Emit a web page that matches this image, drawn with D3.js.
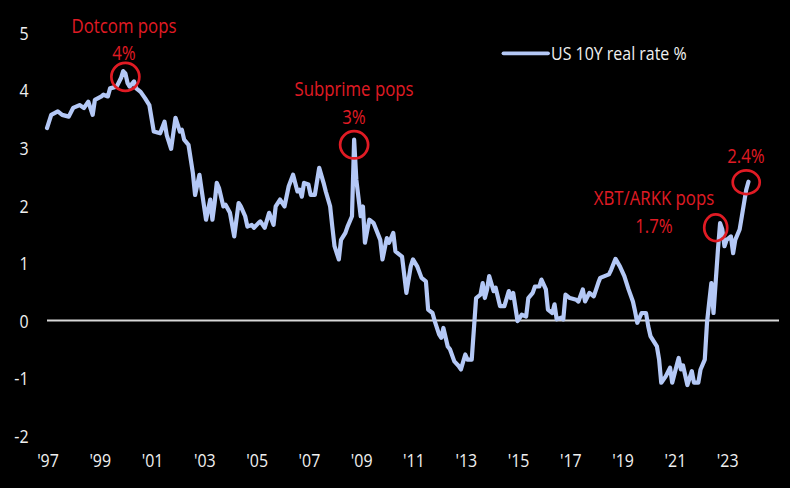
<!DOCTYPE html>
<html><head><meta charset="utf-8">
<script src="https://cdn.jsdelivr.net/npm/d3@7"></script>
<style>html,body{margin:0;padding:0;background:#000;} svg{display:block;}</style>
</head><body>
<svg id="chart" width="790" height="488"></svg>
<script>
// ---- data ----
const months = ["1997-01","1997-03","1997-06","1997-08","1997-11","1998-01","1998-04","1998-06","1998-08","1998-10","1998-11",
"1999-02","1999-03","1999-05","1999-06","1999-09","1999-11","1999-12","2000-01","2000-02","2000-03","2000-05","2000-06","2000-08","2000-10","2000-12",
"2001-01","2001-02","2001-05","2001-07","2001-08","2001-10","2001-12","2002-02","2002-03","2002-04","2002-06","2002-08","2002-09","2002-11","2002-12",
"2003-02","2003-04","2003-05","2003-06","2003-07","2003-08","2003-10","2003-11","2004-01","2004-03","2004-05","2004-06","2004-08","2004-09","2004-11","2004-12",
"2005-02","2005-03","2005-05","2005-07","2005-09","2005-10","2005-12","2006-02","2006-04","2006-06","2006-08","2006-09","2006-10","2006-11",
"2007-01","2007-02","2007-04","2007-06","2007-08","2007-09","2007-11","2007-12","2008-01","2008-03","2008-04","2008-06","2008-07","2008-09","2008-10","2008-11",
"2009-01","2009-02","2009-03","2009-05","2009-07","2009-10","2009-11","2010-01","2010-02","2010-04","2010-05","2010-08","2010-10","2010-12",
"2011-01","2011-03","2011-05","2011-07","2011-08","2011-10","2011-11","2012-01","2012-02","2012-03","2012-05","2012-06","2012-08","2012-10","2012-11",
"2013-01","2013-02","2013-04","2013-06","2013-08","2013-09","2013-10","2013-11","2013-12","2014-02","2014-03","2014-05","2014-07","2014-09","2014-10","2014-11",
"2015-01","2015-03","2015-05","2015-06","2015-08","2015-09","2015-11","2015-12","2016-02","2016-03","2016-05","2016-06","2016-07","2016-09","2016-10","2016-11",
"2017-01","2017-04","2017-05","2017-07","2017-08","2017-10","2017-12","2018-02","2018-03","2018-05","2018-07","2018-08","2018-10","2018-12",
"2019-02","2019-04","2019-06","2019-07","2019-08","2019-10","2019-12","2020-01","2020-02","2020-05","2020-06","2020-07","2020-09","2020-11","2020-12",
"2021-02","2021-03","2021-04","2021-05","2021-07","2021-09","2021-10","2021-12","2022-01","2022-03","2022-04","2022-05","2022-06","2022-07","2022-09","2022-10","2022-11","2022-12",
"2023-01","2023-03","2023-04","2023-05","2023-07","2023-08","2023-10","2023-11"];
const rates = [3.34,3.57,3.63,3.57,3.54,3.69,3.74,3.69,3.80,3.57,3.83,
3.89,3.92,3.89,4.03,4.06,4.21,4.33,4.29,4.12,4.06,4.15,4.03,3.97,3.86,3.74,
3.51,3.28,3.25,3.45,3.22,2.98,3.52,3.28,3.31,3.14,3.05,2.56,2.18,2.53,2.27,
1.75,2.10,1.75,2.04,2.39,2.30,1.98,2.01,1.87,1.46,2.04,1.98,1.81,1.63,1.66,1.61,
1.69,1.72,1.61,1.87,1.66,1.98,2.10,1.98,2.33,2.53,2.24,2.27,2.15,2.39,
2.36,2.18,2.18,2.65,2.39,2.24,1.98,1.63,1.29,1.06,1.40,1.52,1.63,1.81,3.14,2.44,
1.81,1.98,1.35,1.75,1.69,1.40,1.06,1.43,1.35,1.52,1.20,1.11,0.48,0.94,
1.06,0.94,0.74,0.68,0.19,0.13,-0.01,-0.24,-0.30,-0.13,-0.45,-0.50,-0.71,-0.79,-0.85,
-0.59,-0.68,-0.68,0.39,0.45,0.65,0.39,0.54,0.77,0.51,0.57,0.25,0.25,0.51,0.39,0.48,
-0.01,0.10,0.07,0.39,0.48,0.59,0.59,0.71,0.54,0.19,0.13,0.28,0.02,0.05,0.02,0.45,
0.39,0.36,0.33,0.54,0.33,0.48,0.42,0.65,0.74,0.77,0.80,0.88,1.07,0.94,
0.77,0.54,0.33,0.16,-0.04,0.13,0.13,-0.10,-0.27,-0.45,-0.68,-1.08,-0.97,-0.82,-1.08,
-0.78,-0.65,-0.85,-0.78,-1.12,-0.88,-1.08,-1.08,-0.85,-0.68,-0.04,0.31,0.65,0.13,1.23,1.69,1.58,1.29,
1.40,1.46,1.17,1.40,1.58,1.81,2.27,2.41];
const yTicks = [5,4,3,2,1,0,-1,-2];
const xTickYears = [1997,1999,2001,2003,2005,2007,2009,2011,2013,2015,2017,2019,2021,2023];
const seriesName = "US 10Y real rate %";
const annotationTitles = ["Dotcom pops","Subprime pops","XBT/ARKK pops",""];
const annotationValues = ["4%","3%","1.7%","2.4%"];
const annotationDates = ["2000-01","2008-10","2022-08","2023-10"];
const annotationLevels = [4.23,3.05,1.61,2.40];

// ---- layout ----
const W = 790, H = 488;
const parse = d3.timeParse("%Y-%m");
const x = d3.scaleTime().domain([new Date(1997,0,1), new Date(2025,0,1)]).range([47, 779]);
const y = d3.scaleLinear().domain([-2,5]).range([435.7, 32.5]);
const FONT = "'Open Sans','Noto Sans',sans-serif";
const SX = 0.84; // horizontal condensing to mimic the condensed face
const TXT = "#f0f0f0", LINE = "#b4c8f6", RED = "#e01b24";
// label anchor x, baseline of last line, circle radii
const annLayout = [
  {tx:124, ty:60.5, rx:14, ry:14},
  {tx:354, ty:123.8, rx:14, ry:13.6},
  {tx:654, ty:232.8, rx:11.5, ry:13.3},
  {tx:746, ty:163.3, rx:13.5, ry:11.8}
];
const LINE_GAP = 27.4;

const svg = d3.select("#chart");
svg.append("rect").attr("width",W).attr("height",H).attr("fill","#000");

// y-axis labels
const yAxis = d3.axisLeft(y).tickValues(yTicks).tickSize(0).tickPadding(0).tickFormat(d=>String(d));
const gy = svg.append("g").attr("transform","translate(28.5,0)").call(yAxis);
gy.select(".domain").remove();
gy.selectAll("text").attr("fill",TXT).attr("font-family",FONT).attr("font-size",19)
  .attr("dy",null).attr("y",6.8).attr("x",0).attr("text-anchor","end")
  .attr("transform",`scale(${SX},1)`);

// x-axis labels
const xAxis = d3.axisBottom(x).tickValues(xTickYears.map(v=>new Date(v,0,1))).tickSize(0).tickPadding(0)
  .tickFormat(d3.timeFormat("'%y"));
const gx = svg.append("g").attr("transform","translate(0.5,467)").call(xAxis);
gx.select(".domain").remove();
gx.selectAll("text").attr("fill",TXT).attr("font-family",FONT).attr("font-size",19).attr("dy",null).attr("y",0)
  .attr("transform",`scale(${SX},1)`);

// zero line
svg.append("line").attr("x1",x.range()[0]).attr("x2",x.range()[1]).attr("y1",y(0)).attr("y2",y(0))
  .attr("stroke","#d8d8d8").attr("stroke-width",1.8);

// series line
const data = months.map((m,i)=>({d:parse(m), v:rates[i]}));
svg.append("path").datum(data)
  .attr("d", d3.line().x(d=>x(d.d)).y(d=>y(d.v)))
  .attr("fill","none").attr("stroke",LINE).attr("stroke-width",4.2)
  .attr("stroke-linejoin","round").attr("stroke-linecap","round");

// legend
svg.append("line").attr("x1",503.5).attr("x2",548).attr("y1",53.3).attr("y2",53.3)
  .attr("stroke",LINE).attr("stroke-width",3.8).attr("stroke-linecap","round");
svg.append("text").attr("transform",`translate(551,59.5) scale(${SX},1)`)
  .attr("fill",TXT).attr("font-family",FONT).attr("font-size",19).text(seriesName);

// annotations (one text element per annotation, lines as tspans)
annotationDates.forEach((ds,i)=>{
  const L = annLayout[i];
  svg.append("ellipse").attr("cx",x(parse(ds))).attr("cy",y(annotationLevels[i]))
    .attr("rx",L.rx).attr("ry",L.ry).attr("fill","none").attr("stroke",RED).attr("stroke-width",2.7);
  const lines = annotationTitles[i] ? [annotationTitles[i], annotationValues[i]] : [annotationValues[i]];
  const t = svg.append("text")
    .attr("transform",`translate(${L.tx},${L.ty - (lines.length-1)*LINE_GAP}) scale(${SX},1)`)
    .attr("text-anchor","middle").attr("fill",RED).attr("font-family",FONT).attr("font-size",20);
  lines.forEach((s,j)=>t.append("tspan").attr("x",0).attr("y",j*LINE_GAP).text(s));
});
</script>
</body></html>
